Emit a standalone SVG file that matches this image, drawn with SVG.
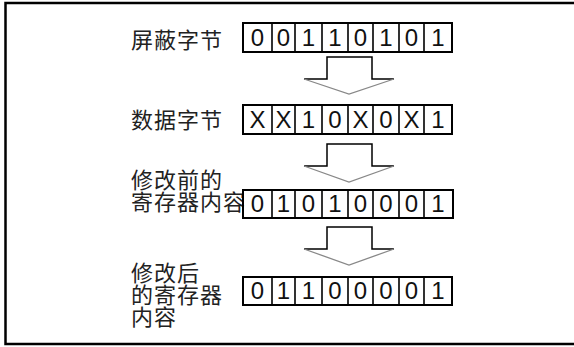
<svg xmlns="http://www.w3.org/2000/svg" width="574" height="347" viewBox="0 0 574 347">
<style>
.lbl{font-family:"Noto Sans CJK SC","Noto Sans",sans-serif;font-size:22px;letter-spacing:1px;fill:#222}
.d{font-family:"Liberation Sans",Arial,sans-serif;font-size:24px;fill:#111;text-anchor:middle}
.box{fill:none;stroke:#000;stroke-width:2}
.div{stroke:#000;stroke-width:1.6}
.stem{fill:none;stroke:#000;stroke-width:1.5}
.head{fill:none;stroke:#888;stroke-width:1.3}
</style>
<rect width="574" height="347" fill="#fff"/>
<path d="M574,3 H5.5 V344 H574" fill="none" stroke="#000" stroke-width="2.5"/>

<g id="row1">
<text class="lbl" x="131" y="48">屏蔽字节</text>
<rect class="box" x="243" y="23" width="209" height="29"/>
<path class="div" d="M272,23V52M295,23V52M322,23V52M348,23V52M373,23V52M399,23V52M424,23V52"/>
<g class="d"><text x="257.5" y="46">0</text><text x="283.5" y="46">0</text><text x="308.5" y="46">1</text><text x="335" y="46">1</text><text x="360.5" y="46">0</text><text x="386" y="46">1</text><text x="411.5" y="46">0</text><text x="438" y="46">1</text></g>
</g>

<g id="row2">
<text class="lbl" x="131" y="128">数据字节</text>
<rect class="box" x="243" y="105" width="209" height="29"/>
<path class="div" d="M272,105V134M295,105V134M322,105V134M348,105V134M373,105V134M399,105V134M424,105V134"/>
<g class="d"><text x="257.5" y="128">X</text><text x="283.5" y="128">X</text><text x="308.5" y="128">1</text><text x="335" y="128">0</text><text x="360.5" y="128">X</text><text x="386" y="128">0</text><text x="411.5" y="128">X</text><text x="438" y="128">1</text></g>
</g>

<g id="row3">
<text class="lbl" x="131" y="188">修改前的<tspan x="131" dy="22">寄存器内容</tspan></text>
<rect class="box" x="243" y="190" width="210" height="28"/>
<path class="div" d="M272,190V218M295,190V218M322,190V218M348,190V218M373,190V218M399,190V218M424,190V218"/>
<g class="d"><text x="257.5" y="212">0</text><text x="283.5" y="212">1</text><text x="308.5" y="212">0</text><text x="335" y="212">1</text><text x="360.5" y="212">0</text><text x="386" y="212">0</text><text x="411.5" y="212">0</text><text x="438" y="212">1</text></g>
</g>

<g id="row4">
<text class="lbl" x="131" y="281">修改后<tspan x="131" dy="22">的寄存器</tspan><tspan x="131" dy="22">内容</tspan></text>
<rect class="box" x="243" y="277" width="209" height="28"/>
<path class="div" d="M272,277V305M295,277V305M322,277V305M348,277V305M373,277V305M399,277V305M424,277V305"/>
<g class="d"><text x="257.5" y="299">0</text><text x="283.5" y="299">1</text><text x="308.5" y="299">1</text><text x="335" y="299">0</text><text x="360.5" y="299">0</text><text x="386" y="299">0</text><text x="411.5" y="299">0</text><text x="438" y="299">1</text></g>
</g>

<g id="connectors">
<g id="arrow1"><polyline class="stem" points="304,79 327,79 327,57 372,57 372,79 394,79"/><polyline class="head" points="304,79 349,94 394,79"/></g>
<g id="arrow2"><polyline class="stem" points="304,166 327,166 327,144 372,144 372,166 394,166"/><polyline class="head" points="304,166 349,182 394,166"/></g>
<g id="arrow3"><polyline class="stem" points="304,249 327,249 327,227 372,227 372,249 394,249"/><polyline class="head" points="304,249 349,265 394,249"/></g>
</g>
</svg>
